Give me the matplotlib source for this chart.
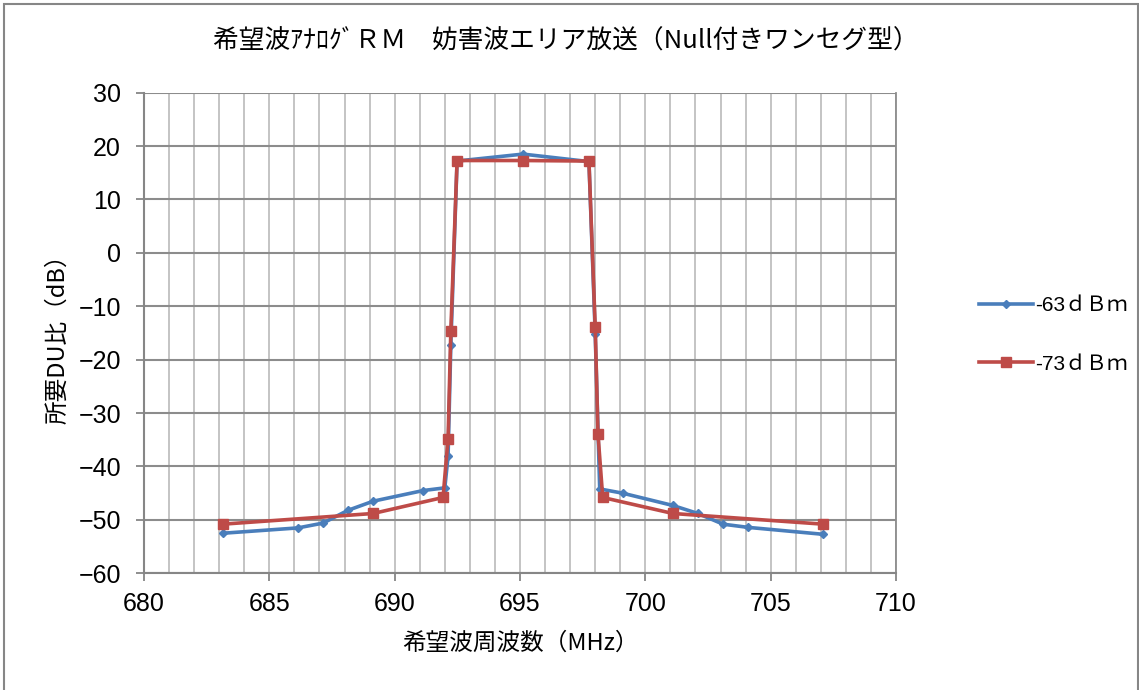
import matplotlib
matplotlib.use('Agg')
import matplotlib.pyplot as plt
from matplotlib.patches import Rectangle

plt.rcParams['font.family'] = ['Liberation Sans', 'Noto Sans CJK JP', 'DejaVu Sans']
JP = ['Noto Sans CJK JP', 'DejaVu Sans']

# -63dBm の測定値 (希望波周波数 MHz, 所要DU比 dB)
freq_63 = [683.14, 686.14, 687.14, 688.14, 689.14, 691.14, 692.0, 692.13, 692.24, 692.49,
           695.12, 697.75, 698.0, 698.18, 699.1, 701.1, 702.1, 703.1, 704.1, 707.1]
du_63 = [-52.5, -51.5, -50.6, -48.2, -46.5, -44.5, -44.0, -38.1, -17.3, 17.2,
         18.5, 17.1, -15.1, -44.2, -45.0, -47.3, -48.8, -50.8, -51.4, -52.7]

# -73dBm の測定値
freq_73 = [683.14, 689.14, 691.93, 692.13, 692.24, 692.49, 695.12,
           697.75, 698.0, 698.11, 698.3, 701.1, 707.1]
du_73 = [-50.8, -48.8, -45.8, -34.8, -14.7, 17.3, 17.3,
         17.2, -13.8, -33.9, -45.8, -48.8, -50.8]

labels = ['-63ｄＢｍ', '-73ｄＢｍ']
title = '希望波ｱﾅﾛｸﾞＲＭ　妨害波エリア放送（Null付きワンセグ型）'

W, H = 1139, 690
fig = plt.figure(figsize=(W / 100, H / 100), dpi=100)
ax = fig.add_axes([144 / W, 1 - 573.3 / H, (896 - 144) / W, (573.3 - 92.7) / H])

ax.plot(freq_63, du_63, color='#4A7EBB', lw=2.6, marker='D', ms=4.5,
        label=labels[0], zorder=3)
ax.plot(freq_73, du_73, color='#BE4B48', lw=2.6, marker='s', ms=6.5,
        label=labels[1], zorder=4)

ax.set_xlim(680, 710)
ax.set_ylim(-60, 30)
ax.set_xticks(range(680, 711, 5))
ax.set_xticks(range(680, 711, 1), minor=True)
ax.set_yticks(range(-60, 31, 10))

ax.grid(which='minor', axis='x', color='#BFBFBF', lw=1.3)
ax.grid(which='major', axis='x', color='#BFBFBF', lw=1.3)
ax.grid(which='major', axis='y', color='#8C8C8C', lw=1.5)
ax.set_axisbelow(True)

for s in ['left', 'bottom']:
    ax.spines[s].set_color('#868686')
    ax.spines[s].set_linewidth(1.5)
ax.spines['top'].set_visible(False)
ax.spines['right'].set_color('#8C8C8C')
ax.spines['right'].set_linewidth(1.3)

ax.tick_params(which='major', direction='out', length=5.5, width=1.3,
               color='#868686', labelsize=18, pad=8)
ax.tick_params(which='minor', length=0)
ax.tick_params(axis='y', pad=11)

ax.set_xlabel('希望波周波数（MHz）', family=JP, fontsize=17, labelpad=11)
ax.set_ylabel('所要DU比（dB）', family=JP, fontsize=17, labelpad=7)
fig.text(566 / W, 1 - 42 / H, title, family=JP, fontsize=18.5,
         ha='center', va='center')

fig.legend(loc='center left', bbox_to_anchor=(960 / W, 1 - 335 / H),
           frameon=False, handlelength=2.6, handletextpad=0.1,
           labelspacing=1.9,
           prop={'family': ['Liberation Sans', 'Noto Sans CJK JP'], 'size': 15})

# グラフエリアの枠
fig.patches.append(Rectangle((4 / W, -0.01), 1134 / W, 1.01 - 4 / H,
                             transform=fig.transFigure, fill=False,
                             edgecolor='#868686', lw=1.5))

fig.savefig('out.png', dpi=100)
